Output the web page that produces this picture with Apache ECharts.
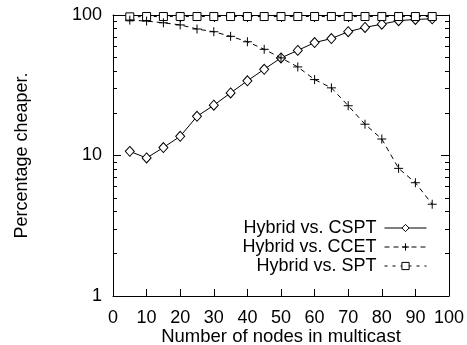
<!DOCTYPE html>
<html><head><meta charset="utf-8">
<script src="https://cdn.jsdelivr.net/npm/echarts@6/dist/echarts.min.js"></script>
<style>html,body{margin:0;padding:0;background:#fff}#c{width:467px;height:345px}</style>
</head><body><div id="c"></div>
<script>
const nodes = [5,10,15,20,25,30,35,40,45,50,55,60,65,70,75,80,85,90,95];
const cspt = [10.7,9.6,11.4,13.7,19.0,22.8,27.9,34.0,41.1,49.5,56.0,63.6,68.0,76.0,81.6,86.0,91.1,93.0,94.0];
const ccet = [92,90.5,88,85,79.5,76,70.5,64.5,57,49.5,42.7,34.7,30.3,22.6,16.7,13.1,8.1,6.4,4.5];
const spt = [97,97.5,97.5,97.5,97.5,97.5,97.5,97.5,97.5,97.5,97.5,97.5,97.5,97.5,97.5,97.5,97.5,97.5,97.5];
const seriesNames = ['Hybrid vs. CSPT','Hybrid vs. CCET','Hybrid vs. SPT'];

const font = '"Liberation Sans", Arial, Helvetica, sans-serif';
const black = '#000';
const chart = echarts.init(document.getElementById('c'), null, {renderer:'canvas'});
const plus = 'path://M0,5L10,5M5,0L5,10';
const diamond = 'path://M5,0L10,5L5,10L0,5Z';
const square = 'path://M0,0L10,0L10,10L0,10Z';
const axLine = {show:true, onZero:false, lineStyle:{color:black, width:1}};
const txt = {color:black, fontFamily:font, fontSize:18};
const tickStyle = {color:black, width:1};

function yAx(pos, showLabel, extra) {
  return Object.assign({
    type:'log', logBase:10, min:1, max:100, position:pos,
    axisLine: axLine,
    axisTick:{show:true, inside:true, length:8, lineStyle:tickStyle},
    minorTick:{show:true, splitNumber:9, length:4, lineStyle:tickStyle},
    axisLabel: showLabel ? Object.assign({margin:11}, txt) : {show:false},
    splitLine:{show:false}, minorSplitLine:{show:false}
  }, extra || {});
}

const option = {
  animation:false,
  backgroundColor:'#fff',
  grid:{left:113, right:18, top:15, bottom:49, outerBoundsMode:'none', containLabel:false},
  xAxis:[
    {type:'value', min:0, max:100, interval:10, position:'bottom',
     axisLine:axLine,
     axisTick:{show:true, inside:true, length:7, lineStyle:tickStyle},
     axisLabel:Object.assign({margin:13}, txt),
     splitLine:{show:false},
     name:'Number of nodes in multicast', nameLocation:'middle', nameGap:31,
     nameMoveOverlap:false,
     nameTextStyle:Object.assign({}, txt, {fontSize:18.5})},
    {type:'value', min:0, max:100, interval:10, position:'top',
     axisLine:axLine,
     axisTick:{show:true, inside:true, length:7, lineStyle:tickStyle},
     axisLabel:{show:false}, splitLine:{show:false}}
  ],
  yAxis:[
    yAx('left', true, {name:'Percentage cheaper.', nameLocation:'middle', nameGap:82,
      nameMoveOverlap:false, nameRotate:90, nameTextStyle:Object.assign({}, txt)}),
    yAx('right', false)
  ],
  legend:{
    orient:'vertical', right:40, top:219, align:'right',
    itemWidth:42, itemHeight:9, itemGap:1, padding:0,
    lineStyle:{width:1}, itemStyle:{borderWidth:1},
    textStyle:Object.assign({padding:[0,3,0,0]}, txt),
    data:seriesNames
  },
  series:[
    {name:seriesNames[0], type:'line', data:nodes.map((x,i)=>[x,cspt[i]]),
     symbol:diamond, symbolSize:[9,10], clip:false, z:2,
     lineStyle:{color:black, width:1, type:'solid'},
     itemStyle:{color:'#fff', borderColor:black, borderWidth:1}},
    {name:seriesNames[1], type:'line', data:nodes.map((x,i)=>[x,ccet[i]]),
     symbol:plus, symbolSize:9, clip:false, z:3,
     lineStyle:{color:black, width:1, type:[5,4]},
     itemStyle:{color:black, borderColor:black, borderWidth:1}},
    {name:seriesNames[2], type:'line', data:nodes.map((x,i)=>[x,spt[i]]),
     symbol:square, symbolSize:[8,8], clip:false, z:2,
     lineStyle:{color:black, width:1, type:[3,5]},
     itemStyle:{color:'#fff', borderColor:black, borderWidth:1}}
  ]
};
chart.setOption(option);
</script>
</body></html>
